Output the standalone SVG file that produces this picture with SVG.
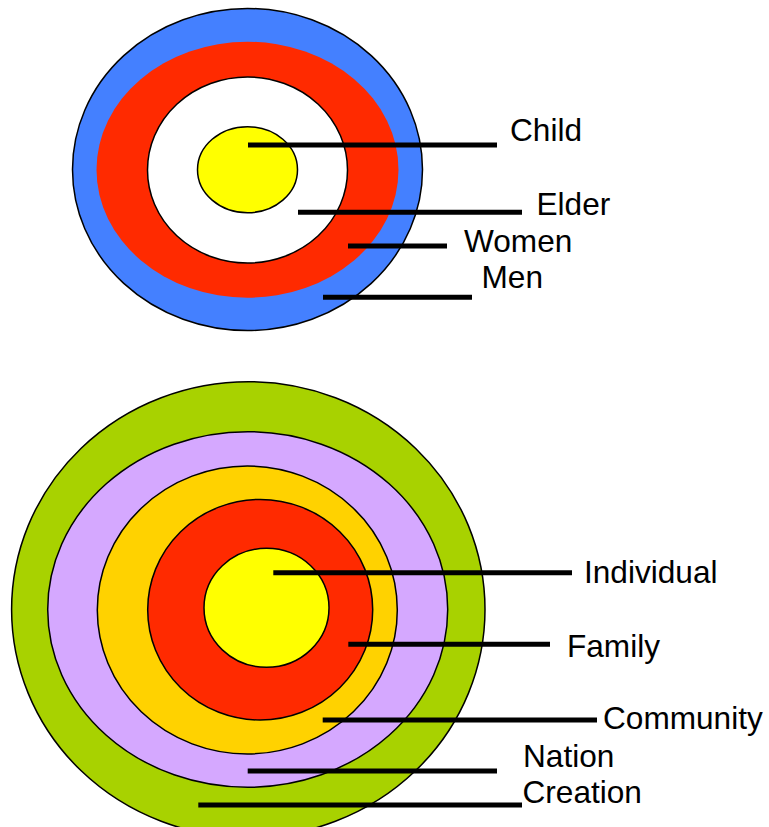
<svg xmlns="http://www.w3.org/2000/svg" width="769" height="827" viewBox="0 0 769 827">
<style>
.ring{stroke:#000;stroke-width:1.5}
.lbl{font-family:"Liberation Sans",Arial,sans-serif;font-size:31.6px;fill:#000}
.ln{stroke:#000;stroke-width:5;fill:none}
</style>
<rect width="769" height="827" fill="#fff"/>
<g id="top-target">
  <g id="men-ring"><ellipse class="ring" cx="247.5" cy="169.5" rx="175" ry="161" fill="#4480FF"/></g>
  <g id="women-ring"><ellipse cx="247.5" cy="169.7" rx="151" ry="128" fill="#FF2A00"/></g>
  <g id="elder-ring"><ellipse class="ring" cx="247.5" cy="170" rx="100" ry="93" fill="#FFFFFF"/></g>
  <g id="child-ring"><ellipse class="ring" cx="247.5" cy="169.7" rx="50" ry="43" fill="#FFFF00"/></g>
</g>
<g id="bottom-target">
  <g id="creation-ring"><ellipse class="ring" cx="248.3" cy="609.5" rx="236.7" ry="227.8" fill="#A8D200"/></g>
  <g id="nation-ring"><ellipse class="ring" cx="247.7" cy="609.5" rx="200" ry="177.8" fill="#D5A8FF"/></g>
  <g id="community-ring"><ellipse class="ring" cx="247.3" cy="610" rx="150" ry="144" fill="#FFD200"/></g>
  <g id="family-ring"><ellipse class="ring" cx="260.2" cy="609.7" rx="112.5" ry="110.3" fill="#FF2A00"/></g>
  <g id="individual-ring"><ellipse class="ring" cx="266.5" cy="607.8" rx="62.5" ry="59.5" fill="#FFFF00"/></g>
</g>
<g id="connectors">
  <line class="ln" x1="248" y1="145" x2="497" y2="145"/>
  <line class="ln" x1="298" y1="212.3" x2="522" y2="212.3"/>
  <line class="ln" x1="348" y1="246" x2="447" y2="246"/>
  <line class="ln" x1="323" y1="297.3" x2="472" y2="297.3"/>
  <line class="ln" x1="273.3" y1="572.7" x2="572" y2="572.7"/>
  <line class="ln" x1="348.3" y1="644.3" x2="550" y2="644.3"/>
  <line class="ln" x1="322.7" y1="720" x2="597" y2="720"/>
  <line class="ln" x1="247.7" y1="771" x2="497" y2="771"/>
  <line class="ln" x1="198.3" y1="805" x2="522" y2="805"/>
</g>
<g id="label-child"><text class="lbl" x="510" y="141">Child</text></g>
<g id="label-elder"><text class="lbl" x="536.5" y="215">Elder</text></g>
<g id="label-women"><text class="lbl" x="464" y="251.7">Women</text></g>
<g id="label-men"><text class="lbl" x="481.5" y="288.3">Men</text></g>
<g id="label-individual"><text class="lbl" x="584" y="582.7">Individual</text></g>
<g id="label-family"><text class="lbl" x="567" y="656.7">Family</text></g>
<g id="label-community"><text class="lbl" x="603" y="729.3">Community</text></g>
<g id="label-nation"><text class="lbl" x="523" y="766.7">Nation</text></g>
<g id="label-creation"><text class="lbl" x="522.5" y="803.3">Creation</text></g>
</svg>
